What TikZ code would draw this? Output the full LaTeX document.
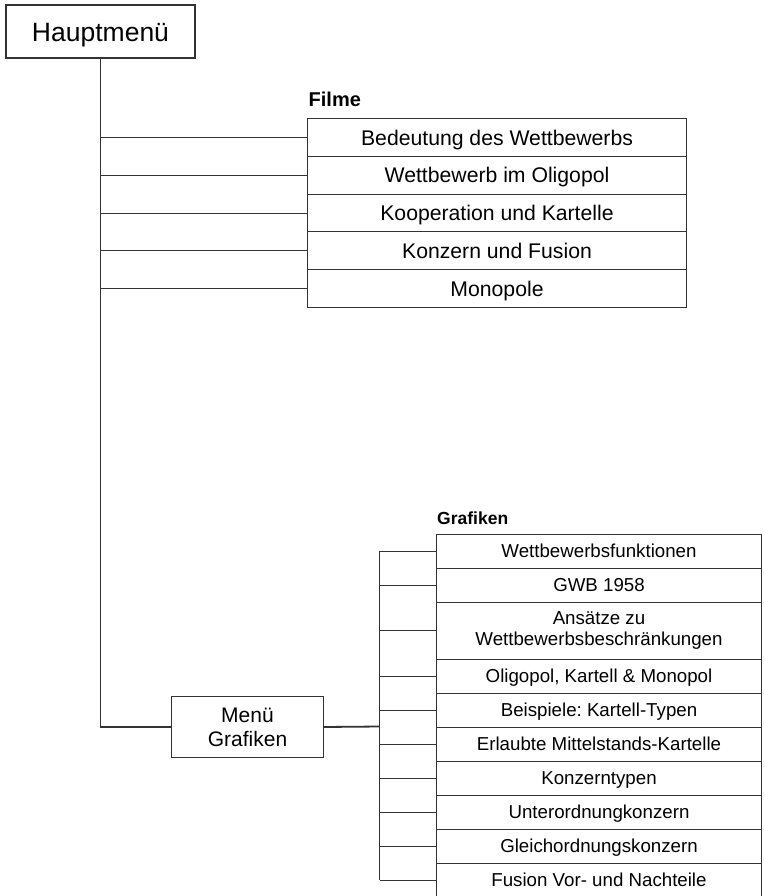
\documentclass[tikz,border=0pt]{standalone}
\usepackage{fontspec}
\setmainfont{Liberation Sans}
\definecolor{ln}{HTML}{333333}
\frenchspacing
\begin{document}
\begin{tikzpicture}[x=1pt,y=-1pt,
  box/.style={draw=ln, line width=1pt, inner sep=0pt, anchor=north west, align=center},
  filmrow/.style={box, text height=15.3pt, text depth=0pt, minimum width=379pt, minimum height=37.8pt, font=\fontsize{21.2}{25}\selectfont},
  grafrow/.style={box, minimum width=325pt, minimum height=34pt, font=\fontsize{18.7}{21.5}\selectfont},
  gcap/.style={text height=13.5pt, text depth=0pt},
  thinline/.style={draw=ln, line width=1pt},
  thickline/.style={draw=ln, line width=1.8pt},
  heading/.style={anchor=base west, inner sep=0pt, font=\bfseries\fontsize{20}{23}\selectfont}]
\useasboundingbox (0,0) rectangle (764,896);

\node[draw=ln, line width=2pt, minimum width=189pt, minimum height=53pt, anchor=north west,
      inner sep=0pt, text height=19.1pt, text depth=0pt, font=\fontsize{26.5}{31}\selectfont] (haupt) at (5,4) {Hauptmenü};

\node[heading] (filme) at (308.5,107) {Filme};
\node[filmrow] (f1) at (307,118) {Bedeutung des Wettbewerbs};
\node[filmrow] (f2) at (307,155.8) {Wettbewerb im Oligopol};
\node[filmrow] (f3) at (307,193.6) {Kooperation und Kartelle};
\node[filmrow] (f4) at (307,231.4) {Konzern und Fusion};
\node[filmrow] (f5) at (307,269.2) {Monopole};

\node[box, minimum width=152pt, minimum height=61pt, font=\fontsize{21}{24}\selectfont] (menu) at (171,696) {Menü\\Grafiken};

\node[heading, font=\bfseries\fontsize{17.5}{20}\selectfont] (grafiken) at (437,524) {Grafiken};
\node[grafrow, gcap] (g1) at (436,533.5) {Wettbewerbsfunktionen};
\node[grafrow, gcap] (g2) at (436,567.5) {GWB 1958};
\node[grafrow, minimum height=57pt] (g3) at (436,601.5) {Ansätze zu\\Wettbewerbsbeschränkungen};
\node[grafrow, gcap] (g4) at (436,658.5) {Oligopol, Kartell \& Monopol};
\node[grafrow, gcap] (g5) at (436,692.5) {Beispiele: Kartell-Typen};
\node[grafrow, gcap] (g6) at (436,726.5) {Erlaubte Mittelstands-Kartelle};
\node[grafrow, gcap] (g7) at (436,760.5) {Konzerntypen};
\node[grafrow, gcap] (g8) at (436,794.5) {Unterordnungkonzern};
\node[grafrow, gcap] (g9) at (436,828.5) {Gleichordnungskonzern};
\node[grafrow, gcap] (g10) at (436,862.5) {Fusion Vor- und Nachteile};

\draw[thickline] (haupt.south) |- (menu.west);
\foreach \i in {1,...,5} \draw[thinline] (haupt.south |- f\i.west) -- (f\i.west);

\coordinate (bus) at (379.5,726.5);
\draw[thickline] (menu.east) -- (bus);
\draw[thickline] (bus |- g1.west) -- (bus |- g10.west);
\foreach \i in {1,...,10} \draw[thinline] (bus |- g\i.west) -- (g\i.west);
\end{tikzpicture}
\end{document}
